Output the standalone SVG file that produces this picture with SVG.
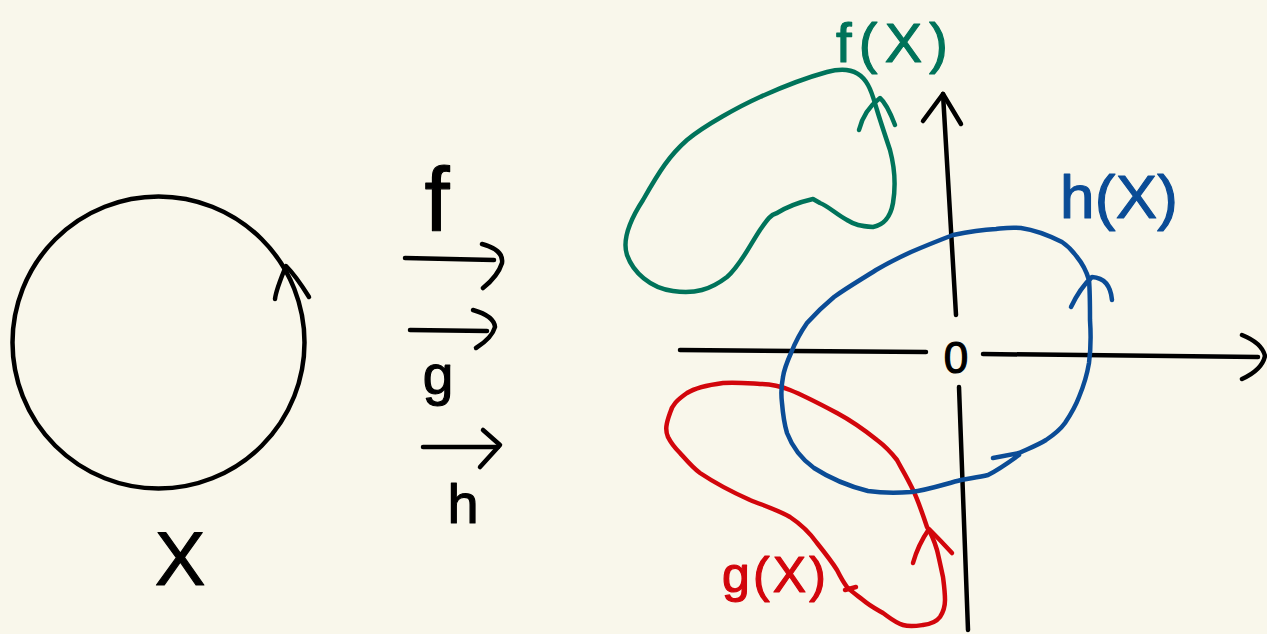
<svg xmlns="http://www.w3.org/2000/svg" width="1267" height="634" viewBox="0 0 1267 634">
<style>
.s{fill:none;stroke-linecap:round;stroke-linejoin:round}
.k{stroke:#000;stroke-width:4.5}
.gr{stroke:#00735A;stroke-width:4.5}
.bl{stroke:#0B4C96;stroke-width:4.5}
.rd{stroke:#D2060C;stroke-width:4.5}
.t{font-family:"Liberation Sans","DejaVu Sans",sans-serif;stroke-width:1.2;stroke-linejoin:round}
</style>
<rect width="1267" height="634" fill="#F9F7EB"/>
<g id="domain">
<circle class="s k" cx="158.5" cy="342.5" r="146"/>
<path class="s k" d="M275,299 Q276,290 286,266 Q296,276 309,297"/>
<text class="t" x="180" y="585" font-size="76" text-anchor="middle" fill="#000" stroke="#000">X</text>
</g>
<g id="maps">
<path class="s k" d="M405,258 L494,260"/>
<path class="s k" d="M482,244 Q504,250 502,263 Q498,276 483,288"/>
<path class="s k" d="M410,330 L487,331"/>
<path class="s k" d="M473,310 Q494,316 495,327 Q492,338 476,348"/>
<path class="s k" d="M423,447 L498,447"/>
<path class="s k" d="M483,430 L500,445 L480,467"/>
<text class="t" x="437" y="231" font-size="90" text-anchor="middle" fill="#000" stroke="#000">f</text>
<text class="t" x="438" y="394" font-size="55" text-anchor="middle" fill="#000" stroke="#000">g</text>
<text class="t" x="463" y="523" font-size="56" text-anchor="middle" fill="#000" stroke="#000">h</text>
</g>
<g id="axes">
<path class="s k" d="M680,350 L926,352"/>
<path class="s k" d="M983,354 L1258,357"/>
<path class="s k" d="M1242,335 Q1262,343 1265,356 Q1262,370 1242,379"/>
<path class="s k" d="M943,94 L956,315"/>
<path class="s k" d="M923,121 L943,94 L961,124"/>
<path class="s k" d="M959,387 L968,630"/>
<text class="t" x="956" y="373" font-size="44" text-anchor="middle" fill="#000" stroke="#000" stroke-width="2">0</text>
</g>
<g id="fX">
<path class="s gr" d="M868,85 C860,70 845,67 827,72 C805,78 780,88 760,97 C740,106 705,125 687,140 C670,155 660,170 643,200 C630,220 622,240 627,255 C633,272 650,288 673,291 C695,294 710,290 727,277 C740,266 750,245 760,230 C767,220 770,215 777,213 C790,205 800,202 813,199 L820,203 C828,206 836,214 847,220 C855,225 860,226 873,227 C882,225 890,220 893,203 C896,185 894,165 890,150 C885,135 880,120 877,110 C874,100 872,92 868,85"/>
<path class="s gr" d="M859,130 Q864,110 880,98 Q887,104 895,125"/>
<text class="t" x="836" y="62" font-size="56" textLength="112" lengthAdjust="spacing" fill="#00735A" stroke="#00735A">f(X)</text>
</g>
<g id="gX">
<path class="s rd" d="M927,527 C922,512 918,500 913,490 C907,477 900,466 897,460 C890,451 885,446 877,440 C862,428 850,420 837,413 C820,404 805,396 790,390 C780,386 772,384 760,384 C745,383 735,382 723,383 C708,385 695,388 687,393 C677,400 672,405 670,413 C666,424 665,430 668,437 C672,445 676,449 680,453 C688,462 693,468 700,473 C715,483 732,492 750,500 C765,506 778,510 790,517 C802,525 810,533 817,543 C825,553 832,562 837,570 C841,578 844,583 847,587 C852,592 858,596 863,600 C870,606 876,609 883,613 C890,618 896,623 903,625 C910,627 916,626 923,625 C932,624 937,621 940,617 C944,611 945,606 945,600 C945,592 944,585 943,577 C941,568 939,558 937,550 C934,540 931,533 927,527"/>
<path class="s rd" d="M845,590 L856,587"/>
<path class="s rd" d="M913,563 Q918,545 929,529 Q940,540 952,553"/>
<text class="t" x="722" y="592" font-size="50" textLength="104" lengthAdjust="spacing" fill="#D2060C" stroke="#D2060C">g(X)</text>
</g>
<g id="hX">
<path class="s bl" d="M993,458 L1019,453 C1030,448 1038,445 1046,440 C1055,434 1060,430 1065,423 C1071,414 1076,405 1079,397 C1084,385 1087,375 1089,363 C1091,348 1091,335 1090,320 C1090,305 1090,292 1089,280 C1086,270 1082,263 1077,257 C1072,250 1068,246 1062,242 C1048,235 1035,230 1021,228 C1010,227 1005,228 996,229 C980,230 968,232 953,235 C940,240 925,246 911,252 C898,258 888,263 876,270 C862,279 848,287 834,297 C822,307 815,314 807,323 C800,333 795,343 791,353 C787,362 784,370 783,377 C781,387 781,395 782,403 C783,415 784,423 787,433 C792,446 800,458 814,468 C828,477 848,486 868,491 C882,493 897,493 911,492 C928,490 945,484 961,480 C972,478 980,477 988,475 C998,470 1008,463 1019,455"/>
<path class="s bl" d="M1071,307 Q1080,288 1092,277 Q1110,278 1112,300"/>
<text class="t" x="1060" y="218" font-size="62" textLength="118" lengthAdjust="spacing" fill="#0B4C96" stroke="#0B4C96">h(X)</text>
</g>
</svg>
